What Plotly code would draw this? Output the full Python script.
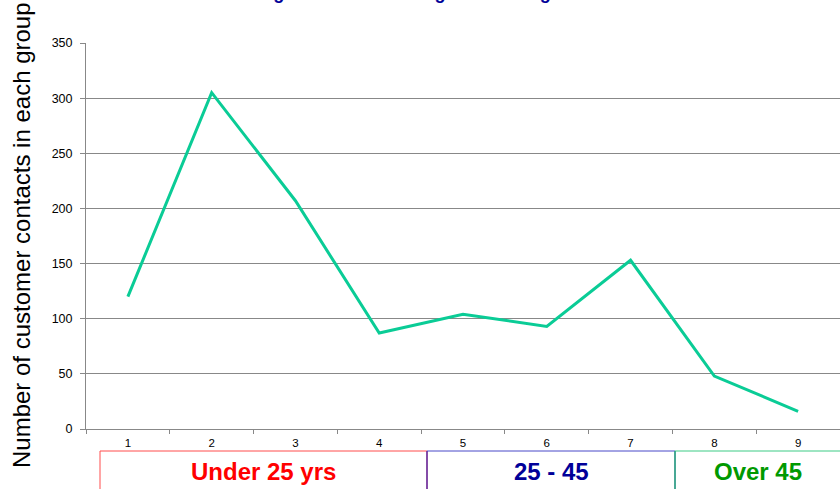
import plotly.graph_objects as go

# ---- data ----
categories = ["1", "2", "3", "4", "5", "6", "7", "8", "9"]
contacts = [120, 305, 207, 87, 104, 93, 153, 48, 16]
y_ticks = [0, 50, 100, 150, 200, 250, 300, 350]
group_names = ["Under 25 yrs", "25 - 45", "Over 45"]
title_text = "Customer Contacts Against Service Range in each Age Band"
y_title = "Number of customer contacts in each group"

# ---- layout helpers (pixel geometry) ----
W, H = 840, 489
ML, MR, MT, MB = 86, 0, 43, 60
PW = W - ML - MR
PH = H - MT - MB


def px_x(p):
    return (p - ML) / PW


def px_y(p):
    return (H - MB - p) / PH


fig = go.Figure()
fig.add_trace(go.Scatter(
    x=categories, y=contacts, mode="lines",
    line=dict(color="#0ACC96", width=3),
    hoverinfo="x+y", showlegend=False,
))

grid_col = "#888888"
fig.update_layout(
    width=W, height=H,
    margin=dict(l=ML, r=MR, t=MT, b=MB),
    plot_bgcolor="white", paper_bgcolor="white",
    font=dict(family="Liberation Sans, Arial, sans-serif", color="black"),
    xaxis=dict(
        type="category", range=[-0.5, 8.5],
        tickson="boundaries", ticks="outside", ticklen=4, tickcolor=grid_col,
        showline=True, linecolor=grid_col, linewidth=1,
        showgrid=False, zeroline=False,
        tickfont=dict(family="Liberation Sans, Arial, sans-serif", size=11.5, color="black"),
        ticklabelstandoff=3,
    ),
    yaxis=dict(
        range=[0, 350], tickvals=y_ticks,
        ticks="outside", ticklen=5, tickcolor=grid_col,
        showline=True, linecolor=grid_col, linewidth=1,
        showgrid=True, gridcolor=grid_col, gridwidth=1, zeroline=False,
        tickfont=dict(family="Liberation Sans, Arial, sans-serif", size=12.5, color="black"),
        ticklabelstandoff=5,
    ),
)

# title (mostly cut off at the top of the frame)
fig.add_annotation(
    text=f"<b>{title_text}</b>", xref="paper", yref="paper",
    x=px_x(88), y=px_y(-7), xanchor="left", yanchor="middle",
    showarrow=False, font=dict(size=18, color="#000099"),
)

# y axis title
fig.add_annotation(
    text=y_title, xref="paper", yref="paper",
    x=px_x(21), y=px_y(235), xanchor="center", yanchor="middle",
    textangle=-90, showarrow=False, font=dict(size=24, color="black"),
)

# group boxes under the axis
box_edges = [100, 427, 675, 845]
box_lines = ["#FF4D4D", "#4848C8", "#3CCB85"]
text_cols = ["#FF0000", "#000099", "#009900"]
box_top = 451
for i, name in enumerate(group_names):
    x0, x1 = box_edges[i], box_edges[i + 1]
    fig.add_shape(type="rect", xref="paper", yref="paper",
                  x0=px_x(x0), x1=px_x(x1), y0=px_y(box_top), y1=px_y(H + 20),
                  line=dict(color=box_lines[i], width=1), fillcolor="rgba(0,0,0,0)")
    fig.add_annotation(
        text=f"<b>{name}</b>", xref="paper", yref="paper",
        x=px_x((x0 + min(x1, 841)) / 2), y=px_y(471), xanchor="center", yanchor="middle",
        showarrow=False, font=dict(size=24, color=text_cols[i]),
    )

# divider lines between boxes
for xe, col in [(427, "#662299"), (675, "#229977")]:
    fig.add_shape(type="line", xref="paper", yref="paper",
                  x0=px_x(xe), x1=px_x(xe), y0=px_y(box_top), y1=px_y(H + 20),
                  line=dict(color=col, width=1))

fig.write_html(
    "out.html",
    config={"displayModeBar": False},
    post_script="document.body.style.margin='0';document.body.style.overflow='hidden';",
)
